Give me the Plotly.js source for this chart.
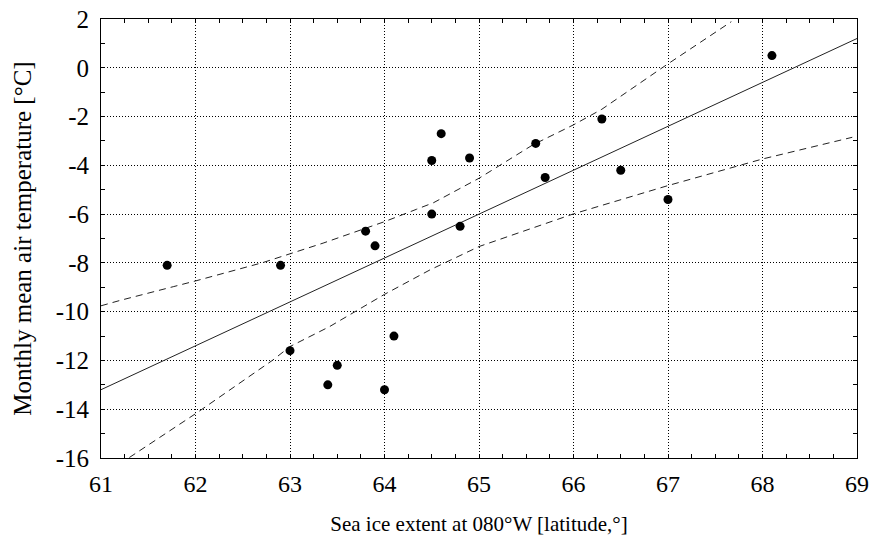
<!DOCTYPE html>
<html>
<head>
<meta charset="utf-8">
<script src="https://cdn.plot.ly/plotly-3.0.1.min.js"></script>
<style>html,body{margin:0;padding:0;background:#fff}#chart{width:872px;height:542px}</style>
</head>
<body>
<div id="chart"></div>
<script>
// Observed points: sea ice extent (latitude) vs monthly mean air temperature
var iceLat = [61.7, 62.9, 63.0, 63.4, 63.5, 64.0, 63.8, 63.9, 64.5, 64.8, 64.1, 64.6, 64.5, 64.9, 65.6, 65.7, 66.3, 66.5, 67.0, 68.1];
var airTemp = [-8.1, -8.1, -11.6, -13.0, -12.2, -13.2, -6.7, -7.3, -6.0, -6.5, -11.0, -2.7, -3.8, -3.7, -3.1, -4.5, -2.1, -4.2, -5.4, 0.5];

// Regression line
var fitX = [61.0, 69.0];
var fitY = [-13.2, 1.2];

// Upper confidence band
var upperX = [61.0, 61.2, 61.77, 62.0, 62.71, 63.0, 63.35, 63.8, 64.0, 64.34, 64.52, 65.0, 65.57, 66.0, 66.3, 66.98, 67.09, 67.67];
var upperY = [-9.76, -9.54, -8.97, -8.74, -7.99, -7.64, -7.19, -6.58, -6.31, -5.8, -5.53, -4.53, -3.16, -2.34, -1.70, 0.11, 0.39, 1.89];

// Lower confidence band
var lowerX = [61.3, 62.01, 62.82, 63.0, 63.42, 64.0, 64.48, 65.0, 66.0, 66.42, 67.0, 68.0, 68.95];
var lowerY = [-15.98, -14.16, -11.98, -11.43, -10.61, -9.29, -8.29, -7.33, -5.99, -5.49, -4.83, -3.74, -2.85];

var xTicks = [61, 62, 63, 64, 65, 66, 67, 68, 69];
var yTicks = [-16, -14, -12, -10, -8, -6, -4, -2, 0, 2];

var traces = [
  {x: upperX, y: upperY, mode: 'lines', type: 'scatter', line: {color: '#222', width: 1, dash: '7px,5px'}, hoverinfo: 'skip'},
  {x: lowerX, y: lowerY, mode: 'lines', type: 'scatter', line: {color: '#222', width: 1, dash: '7px,5px'}, hoverinfo: 'skip'},
  {x: fitX, y: fitY, mode: 'lines', type: 'scatter', line: {color: '#222', width: 1}, hoverinfo: 'skip'},
  {x: iceLat, y: airTemp, mode: 'markers', type: 'scatter', marker: {color: '#000', size: 9}}
];

var serif = 'Liberation Serif';

var layout = {
  width: 872, height: 542,
  margin: {l: 101, r: 15, t: 19, b: 84},
  paper_bgcolor: '#fff', plot_bgcolor: '#fff',
  showlegend: false,
  font: {family: serif, size: 24, color: '#000'},
  xaxis: {
    range: [61, 69], tickvals: xTicks, ticktext: xTicks.map(String),
    showline: true, linecolor: '#000', linewidth: 1, mirror: 'allticks',
    ticks: 'inside', ticklen: 4, tickcolor: '#000',
    showgrid: true, gridcolor: '#000', gridwidth: 1, griddash: '1px,2px',
    zeroline: false, tickfont: {family: serif, size: 24, color: '#000'},
    ticklabelstandoff: 4,
    minor: {dtick: 0.25, ticks: 'inside', ticklen: 4, tickcolor: '#000', showgrid: false},
    title: {text: 'Sea ice extent at 080°W [latitude,°]', font: {family: serif, size: 21, color: '#000'}, standoff: 20}
  },
  yaxis: {
    range: [-16, 2], tickvals: yTicks, ticktext: yTicks.map(String),
    showline: true, linecolor: '#000', linewidth: 1, mirror: 'allticks',
    ticks: 'inside', ticklen: 4, tickcolor: '#000',
    showgrid: true, gridcolor: '#000', gridwidth: 1, griddash: '1px,2px',
    zeroline: false, tickfont: {family: serif, size: 25, color: '#000'},
    ticklabelstandoff: 6,
    minor: {dtick: 1, ticks: 'inside', ticklen: 4, tickcolor: '#000', showgrid: false},
    title: {text: 'Monthly mean air temperature [°C]', font: {family: serif, size: 25, color: '#000'}, standoff: 16}
  }
};

Plotly.newPlot('chart', traces, layout, {displayModeBar: false, staticPlot: true});
</script>
</body>
</html>
